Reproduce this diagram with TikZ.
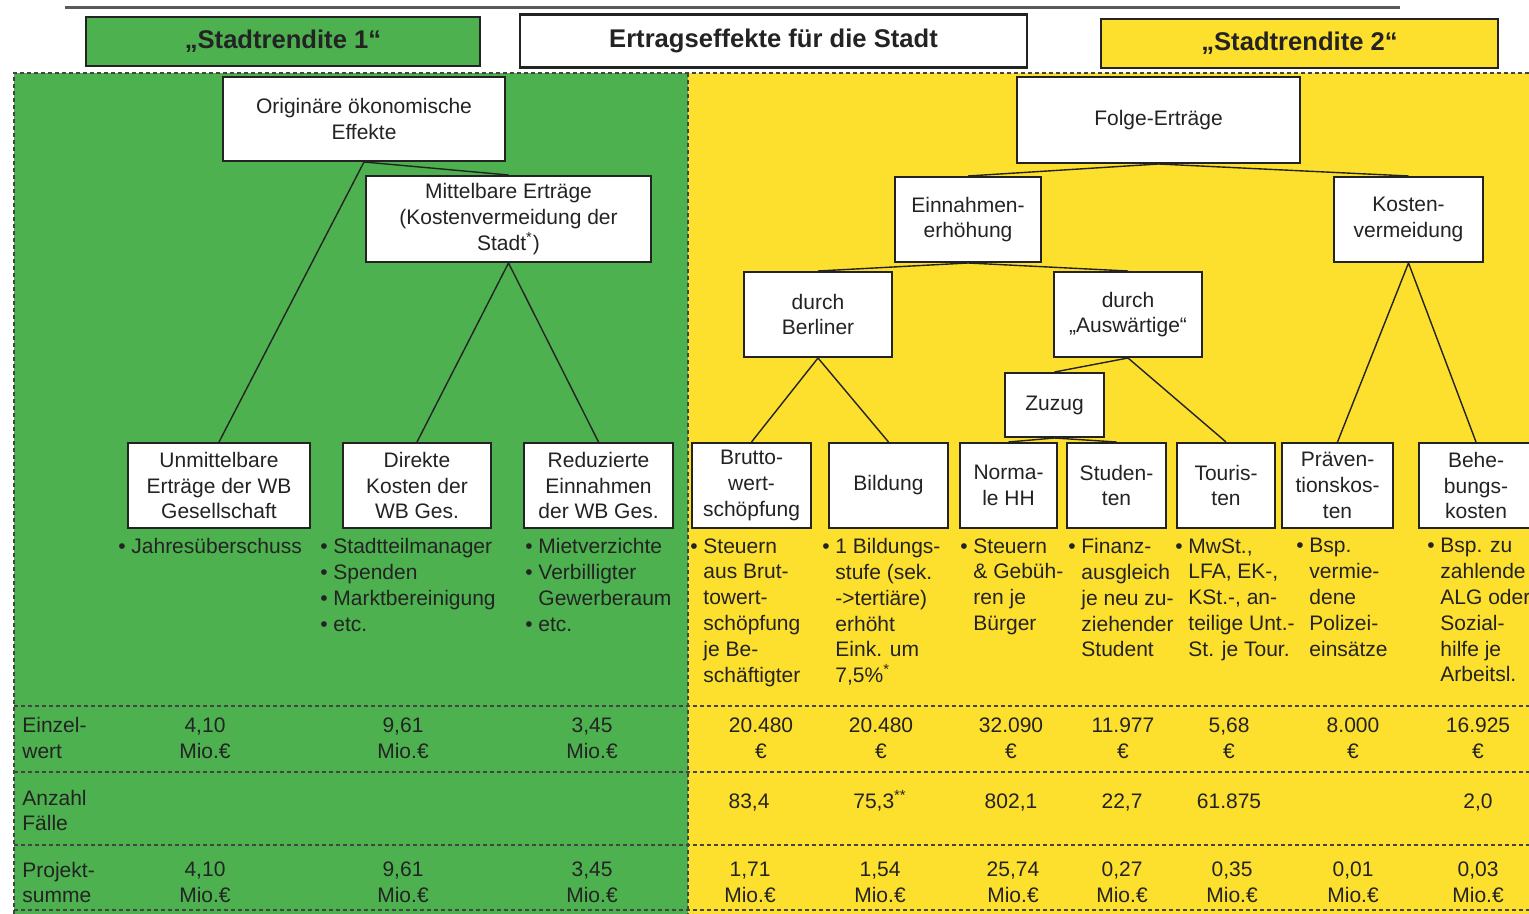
\documentclass[tikz,border=0pt]{standalone}
\usepackage{fontspec}
\setmainfont{Liberation Sans}
\definecolor{srgreen}{RGB}{77,177,80}
\definecolor{sryellow}{RGB}{253,223,45}
\definecolor{ink}{RGB}{35,35,35}
\newcommand{\bpt}{\makebox[0.62em][l]{•}}
\newcommand{\bsk}{\hspace*{0.62em}}
\begin{document}
\begin{tikzpicture}[x=0.5pt,y=-0.5pt,
  every node/.style={font=\fontsize{10.5}{12.9}\selectfont,text=ink,inner sep=0pt},
  box/.style={draw=ink,line width=1pt,fill=white,align=center},
  hdr/.style={draw=ink,line width=1.2pt,align=center,font=\fontsize{12.8}{15}\selectfont\bfseries},
  col/.style={anchor=north west,align=left},
  val/.style={align=center},
  num/.style={anchor=base},
  sep/.style={draw=ink!85,line width=0.75pt,dash pattern=on 2pt off 1.5pt}]
\useasboundingbox (0,0) rectangle (1529,914);
\fill[srgreen] (14,73) rectangle (688,914);
\fill[sryellow] (688,73) rectangle (1529,914);
\draw[sep] (14,914) -- (14,73) -- (1529,73);
\draw[sep] (688,73) -- (688,914);
\foreach \y in {706,772,845,910} \draw[sep] (14,\y) -- (1529,\y);
\draw[ink!75,line width=1.5pt] (65,8) -- (1400,8);
\node[hdr,fill=srgreen,minimum width=197pt,minimum height=24.5pt] (sr1) at (283,41.5) {„Stadtrendite 1“};
\node[hdr,fill=white,minimum width=253.5pt,minimum height=26.5pt] (ert) at (773.5,41) {Ertragseffekte für die Stadt};
\node[hdr,fill=sryellow,minimum width=198.5pt,minimum height=24.5pt] (sr2) at (1299.5,43.5) {„Stadtrendite 2“};
\node[box,minimum width=141pt,minimum height=42pt] (orig) at (364,119) {Originäre ökonomische\\Effekte};
\node[box,minimum width=142.5pt,minimum height=43pt] (mittel) at (508.5,219) {Mittelbare Erträge\\(Kostenvermeidung der\\Stadt\textsuperscript{*})};
\node[box,minimum width=91pt,minimum height=42.5pt] (unmit) at (219,485.5) {Unmittelbare\\Erträge der WB\\Gesellschaft};
\node[box,minimum width=74pt,minimum height=42.5pt] (direkt) at (417,485.5) {Direkte\\Kosten der\\WB Ges.};
\node[box,minimum width=74.5pt,minimum height=42.5pt] (reduz) at (598.5,485.5) {Reduzierte\\Einnahmen\\der WB Ges.};
\node[box,minimum width=141.5pt,minimum height=43pt] (folge) at (1158.5,120) {Folge-Erträge};
\node[box,minimum width=73pt,minimum height=42.5pt] (einn) at (968,219.5) {Einnahmen-\\erhöhung};
\node[box,minimum width=74.5pt,minimum height=42.5pt] (kost) at (1408.5,219.5) {Kosten-\\vermeidung};
\node[box,minimum width=74pt,minimum height=42.5pt] (berl) at (818,314.5) {durch\\Berliner};
\node[box,minimum width=74pt,minimum height=42.5pt] (ausw) at (1128,314.5) {durch\\„Auswärtige“};
\node[box,minimum width=49.5pt,minimum height=32pt] (zuzug) at (1054.5,405) {Zuzug};
\node[box,minimum width=59.5pt,minimum height=42.5pt] (brutto) at (751.5,485.5) {Brutto-\\wert-\\schöpfung};
\node[box,minimum width=59.5pt,minimum height=42.5pt] (bild) at (888.5,485.5) {Bildung};
\node[box,minimum width=48.5pt,minimum height=42.5pt] (normal) at (1008.5,485.5) {Norma-\\le HH};
\node[box,minimum width=49.5pt,minimum height=42.5pt] (stud) at (1116.5,485.5) {Studen-\\ten};
\node[box,minimum width=49pt,minimum height=42.5pt] (tour) at (1226,485.5) {Touris-\\ten};
\node[box,minimum width=55.5pt,minimum height=42.5pt] (praev) at (1337.5,485.5) {Präven-\\tionskos-\\ten};
\node[box,minimum width=57pt,minimum height=42.5pt] (beheb) at (1476,485.5) {Behe-\\bungs-\\kosten};
\draw[ink,line width=0.7pt] (orig.south)--(unmit.north) (orig.south)--(mittel.north) (mittel.south)--(direkt.north) (mittel.south)--(reduz.north)
  (folge.south)--(einn.north) (folge.south)--(kost.north) (einn.south)--(berl.north) (einn.south)--(ausw.north)
  (berl.south)--(brutto.north) (berl.south)--(bild.north) (ausw.south)--(zuzug.north) (ausw.south)--(tour.north)
  (zuzug.south)--(normal.north) (zuzug.south)--(stud.north) (kost.south)--(praev.north) (kost.south)--(beheb.north);
\node[col] (unmitl) at (118,538) {\bpt Jahresüberschuss};
\node[col] (direktl) at (320,538) {\bpt Stadtteilmanager\\\bpt Spenden\\\bpt Marktbereinigung\\\bpt etc.};
\node[col] (reduzl) at (525,538) {\bpt Mietverzichte\\\bpt Verbilligter\\\bsk Gewerberaum\\\bpt etc.};
\node[col] (bruttol) at (690,538) {\bpt Steuern\\\bsk aus Brut-\\\bsk towert-\\\bsk schöpfung\\\bsk je Be-\\\bsk schäftigter};
\node[col] (bildl) at (822,538) {\bpt 1 Bildungs-\\\bsk stufe (sek.\\\bsk ->tertiäre)\\\bsk erhöht\\\bsk Eink. um\\\bsk 7,5\%\textsuperscript{*}};
\node[col] (normall) at (960,538) {\bpt Steuern\\\bsk \& Gebüh-\\\bsk ren je\\\bsk Bürger};
\node[col] (studl) at (1068,538) {\bpt Finanz-\\\bsk ausgleich\\\bsk je neu zu-\\\bsk ziehender\\\bsk Student};
\node[col] (tourl) at (1175,538) {\bpt MwSt.,\\\bsk LFA, EK-,\\\bsk KSt.-, an-\\\bsk teilige Unt.-\\\bsk St. je Tour.};
\node[col] (praevl) at (1296,538) {\bpt Bsp.\\\bsk vermie-\\\bsk dene\\\bsk Polizei-\\\bsk einsätze};
\node[col] (behebl) at (1427,538) {\bpt Bsp. zu\\\bsk zahlende\\\bsk ALG oder\\\bsk Sozial-\\\bsk hilfe je\\\bsk Arbeitsl.};
\node[anchor=west,align=left] (ew) at (22,738) {Einzel-\\wert};
\node[anchor=west,align=left] (af) at (22,810.5) {Anzahl\\Fälle};
\node[anchor=west,align=left] (ps) at (22,882.5) {Projekt-\\summe};
\node[val] (ew1) at (205,738) {4,10\\Mio.€};
\node[val] (ew2) at (403,738) {9,61\\Mio.€};
\node[val] (ew3) at (592,738) {3,45\\Mio.€};
\node[val] (ew4) at (761,738) {20.480\\€};
\node[val] (ew5) at (881,738) {20.480\\€};
\node[val] (ew6) at (1011,738) {32.090\\€};
\node[val] (ew7) at (1123,738) {11.977\\€};
\node[val] (ew8) at (1229,738) {5,68\\€};
\node[val] (ew9) at (1353,738) {8.000\\€};
\node[val] (ew10) at (1478,738) {16.925\\€};
\node[num] (af1) at (749,808) {83,4};
\node[num] (af2) at (880,808) {75,3\textsuperscript{**}};
\node[num] (af3) at (1011,808) {802,1};
\node[num] (af4) at (1122,808) {22,7};
\node[num] (af5) at (1229,808) {61.875};
\node[num] (af6) at (1478,808) {2,0};
\node[val] (ps1) at (205,882.5) {4,10\\Mio.€};
\node[val] (ps2) at (403,882.5) {9,61\\Mio.€};
\node[val] (ps3) at (592,882.5) {3,45\\Mio.€};
\node[val] (ps4) at (750,882.5) {1,71\\Mio.€};
\node[val] (ps5) at (880,882.5) {1,54\\Mio.€};
\node[val] (ps6) at (1013,882.5) {25,74\\Mio.€};
\node[val] (ps7) at (1122,882.5) {0,27\\Mio.€};
\node[val] (ps8) at (1232,882.5) {0,35\\Mio.€};
\node[val] (ps9) at (1353,882.5) {0,01\\Mio.€};
\node[val] (ps10) at (1478,882.5) {0,03\\Mio.€};
\end{tikzpicture}
\end{document}
